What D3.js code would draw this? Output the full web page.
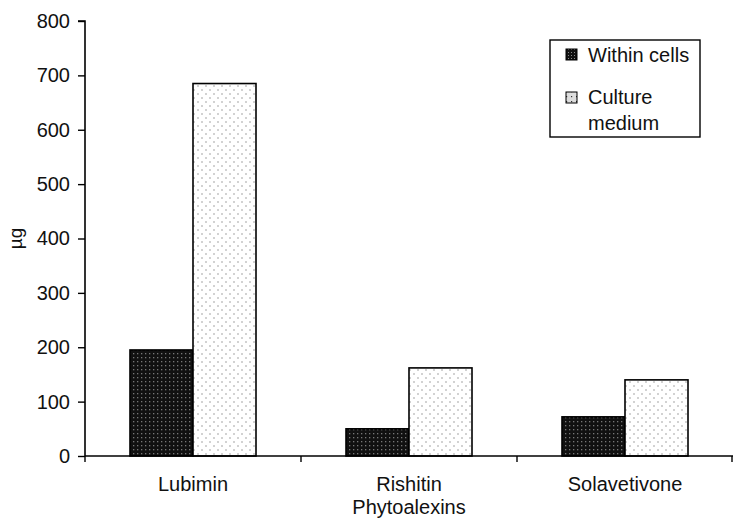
<!DOCTYPE html>
<html><head><meta charset="utf-8">
<script src="https://cdn.jsdelivr.net/npm/d3@7"></script>
<style>body{margin:0;background:#fff}svg{display:block}text{font-family:"Liberation Sans",Arial,sans-serif}</style>
</head><body>
<script>
const categories = ["Lubimin", "Rishitin", "Solavetivone"];
const seriesNames = ["Within cells", "Culture medium"];
const withinCells = [195, 50, 72];
const cultureMedium = [685, 162, 140];
const yTicks = [0, 100, 200, 300, 400, 500, 600, 700, 800];

const W = 733, H = 519;
const FS = 20;
const m = {left: 85, right: 0, top: 21, bottom: 63};
const svg = d3.select("body").append("svg").attr("width", W).attr("height", H);
const defs = svg.append("defs");
const pd = defs.append("pattern").attr("id","pDark").attr("patternUnits","userSpaceOnUse").attr("width",4).attr("height",4);
pd.append("rect").attr("width",4).attr("height",4).attr("fill","#111");
pd.append("rect").attr("x",1).attr("y",1).attr("width",1.3).attr("height",1.3).attr("fill","#777");
const pl = defs.append("pattern").attr("id","pLight").attr("patternUnits","userSpaceOnUse").attr("width",8).attr("height",8);
pl.append("rect").attr("width",8).attr("height",8).attr("fill","#fff");
pl.append("circle").attr("cx",2).attr("cy",2).attr("r",0.8).attr("fill","#999");
pl.append("circle").attr("cx",6).attr("cy",6).attr("r",0.8).attr("fill","#999");
const pdl = defs.append("pattern").attr("id","pDarkL").attr("patternUnits","userSpaceOnUse").attr("width",3).attr("height",3);
pdl.append("rect").attr("width",3).attr("height",3).attr("fill","#111");
pdl.append("rect").attr("x",1).attr("y",1).attr("width",1).attr("height",1).attr("fill","#888");
const pll = defs.append("pattern").attr("id","pLightL").attr("patternUnits","userSpaceOnUse").attr("width",5).attr("height",5);
pll.append("rect").attr("width",5).attr("height",5).attr("fill","#ddd");
pll.append("rect").attr("x",1).attr("y",1).attr("width",1.2).attr("height",1.2).attr("fill","#333");

const x = d3.scaleBand().domain(categories).range([m.left, W - m.right]).paddingInner(0).paddingOuter(0);
const x1 = d3.scaleBand().domain(seriesNames).range([45, x.bandwidth() - 45]);
const y = d3.scaleLinear().domain([0, 800]).range([H - m.bottom, m.top]);

const data = categories.map((c, i) => ({cat: c, vals: [withinCells[i], cultureMedium[i]]}));
const fills = ["url(#pDark)", "url(#pLight)"];
const g = svg.append("g");
data.forEach(d => {
  d.vals.forEach((v, j) => {
    g.append("rect")
      .attr("x", x(d.cat) + x1(seriesNames[j]))
      .attr("y", y(v))
      .attr("width", x1.bandwidth())
      .attr("height", y(0) - y(v))
      .attr("fill", fills[j]).attr("stroke", "#000").attr("stroke-width", 1.6);
  });
});

// y axis
const ya = svg.append("g").attr("transform", `translate(${m.left},0)`)
  .call(d3.axisLeft(y).tickValues(yTicks).tickSize(7).tickPadding(8));
ya.select(".domain").attr("stroke","#000").attr("stroke-width",1.6).attr("d", `M-7,${y(800)}H0V${y(0)}`);
ya.selectAll(".tick line").attr("stroke","#000").attr("stroke-width",1.4);
ya.selectAll(".tick text").attr("font-size",FS).attr("fill","#111").attr("font-family","Liberation Sans, Arial, sans-serif");

// x axis
const xa = svg.append("g").attr("transform", `translate(0,${y(0)})`);
xa.append("line").attr("x1", m.left).attr("x2", W).attr("stroke","#000").attr("stroke-width",1.6);
categories.forEach((c, i) => {
  xa.append("line").attr("x1", x(c)).attr("x2", x(c)).attr("y1",0).attr("y2",6).attr("stroke","#000").attr("stroke-width",1.4);
  xa.append("text").attr("x", x(c) + x.bandwidth()/2).attr("y", 35).attr("text-anchor","middle")
    .attr("font-size",FS).attr("fill","#111").text(c);
});
xa.append("line").attr("x1", x.range()[1]-1).attr("x2", x.range()[1]-1).attr("y1",0).attr("y2",6).attr("stroke","#000").attr("stroke-width",1.4);
svg.append("text").attr("x", x("Rishitin") + x.bandwidth()/2).attr("y", 514).attr("text-anchor","middle")
  .attr("font-size",FS).attr("fill","#111").text("Phytoalexins");

// y label
svg.append("text").attr("transform", `translate(22,${y(400)}) rotate(-90)`).attr("text-anchor","middle")
  .attr("font-size",FS-1).attr("fill","#111").text("µg");

// legend
const lg = svg.append("g");
lg.append("rect").attr("x",550).attr("y",40).attr("width",150).attr("height",97).attr("fill","#fff").attr("stroke","#000").attr("stroke-width",1.4);
const items = [{lines:["Within cells"], sy:49, ty:62, fill: "url(#pDarkL)"}, {lines:["Culture","medium"], sy:92, ty:104, fill: "url(#pLightL)"}];
items.forEach(it => {
  lg.append("rect").attr("x",566).attr("y",it.sy).attr("width",11).attr("height",11).attr("fill",it.fill).attr("stroke","#000").attr("stroke-width",1);
  it.lines.forEach((t, k) => {
    lg.append("text").attr("x",588).attr("y",it.ty + k*26).attr("font-size",FS).attr("fill","#111").text(t);
  });
});
</script>
</body></html>
